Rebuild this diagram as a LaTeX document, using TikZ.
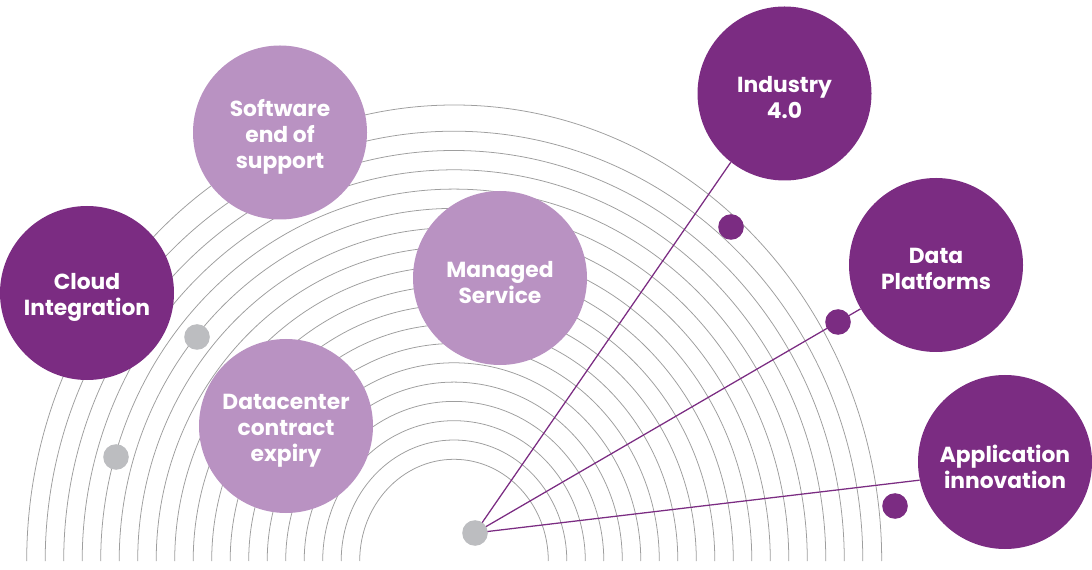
\documentclass[tikz,border=0pt]{standalone}
\usepackage{fontspec}
\setmainfont{Poppins}

\definecolor{darkplum}{RGB}{123,44,130}
\definecolor{lightplum}{RGB}{185,146,194}
\definecolor{dotgrey}{RGB}{188,189,192}
\definecolor{ringgrey}{RGB}{158,158,158}

\begin{document}
\begin{tikzpicture}[x=0.25mm,y=0.25mm]

  \useasboundingbox (0,0) rectangle (1092,569);

  % node styles
  \tikzstyle{Bubble}=[
  shape=circle,
  inner sep=0pt,
  minimum size=43.5mm]

  \tikzstyle{Caption}=[
  align=center,
  text=white,
  yshift=-1.1mm,
  font=\fontsize{15.5}{18.5}\selectfont\bfseries]

  \tikzstyle{Dark}=[Bubble,fill=darkplum]
  \tikzstyle{Light}=[Bubble,fill=lightplum]
  \tikzstyle{Dot}=[shape=circle,inner sep=0pt,minimum size=6.4mm]
  \tikzstyle{Ring}=[draw=ringgrey,line width=0.55pt]
  \tikzstyle{Link}=[draw=darkplum,line width=0.9pt]

  % rings
  \foreach \i in {0,...,17}
    \draw[Ring] ({454-94.3-18.5*\i},8) arc[start angle=180,end angle=0,
      x radius={94.3+18.5*\i},y radius={101.7+19.3*\i}];
  \draw[Ring] (26.7,8) arc[start angle=180,end angle=0,x radius=427.5,y radius=456];

  \node[Light,label={[Caption]center:{Software\\end of\\support}}]  (S) at ( 280.0,436.5) {};
  \node[Dark, label={[Caption]center:{Cloud\\Integration}}]         (C) at (  87.0,276.0) {};
  \node[Light,label={[Caption]center:{Managed\\Service}}]           (M) at ( 500.0,291.0) {};
  \node[Light,label={[Caption]center:{Datacenter\\contract\\expiry}}] (E) at ( 286.0,143.0) {};
  \node[Dark, label={[Caption]center:{Industry\\4.0}}]              (I) at ( 784.5,475.5) {};
  \node[Dark, label={[Caption]center:{Data\\Platforms}}]            (D) at ( 936.0,304.0) {};
  \node[Dark, label={[Caption]center:{Application\\innovation}}]    (A) at (1005.0,107.0) {};

  \coordinate (H) at (475,36);
  \draw[Link] (H) -- (I.232);
  \draw[Link] (H) -- (D);
  \draw[Link] (H) -- (A.192);

  \node[Dot,fill=dotgrey]  (H1) at (475,36) {};
  \node[Dot,fill=dotgrey]  (G1) at (197,232) {};
  \node[Dot,fill=dotgrey]  (G2) at (116,112) {};
  \node[Dot,fill=darkplum] (P1) at (731,342) {};
  \node[Dot,fill=darkplum] (P2) at (838,247) {};
  \node[Dot,fill=darkplum] (P3) at (895,63) {};

\end{tikzpicture}
\end{document}
